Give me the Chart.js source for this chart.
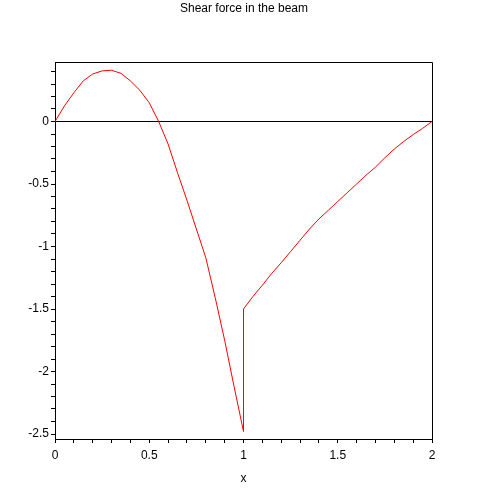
<!DOCTYPE html>
<html>
<head>
<meta charset="utf-8">
<script src="https://cdn.jsdelivr.net/npm/chart.js@4/dist/chart.umd.min.js"></script>
<style>
  html, body { margin: 0; padding: 0; background: #fff; }
  #wrap { width: 488px; height: 488px; }
</style>
</head>
<body>
<div id="wrap"><canvas id="shearChart"></canvas></div>
<script>
// x positions along the beam and the shear force
const xPos = [
    0, 0.05, 0.1, 0.15, 0.2, 0.25, 0.3, 0.35, 0.4, 0.45, 0.5, 0.55, 0.6, 0.65, 0.7, 0.75, 0.8, 0.85, 0.9, 0.95, 1.0,
    1.0, 1.05, 1.1, 1.15, 1.2, 1.25, 1.3, 1.35, 1.4, 1.45, 1.5, 1.55, 1.6, 1.65, 1.7, 1.75, 1.8, 1.85, 1.9, 1.95, 2.0
];
const shear = [
    0, 0.125, 0.23, 0.325, 0.38, 0.405, 0.41, 0.385, 0.325, 0.25, 0.15, 0.0, -0.18, -0.41, -0.63, -0.86, -1.09, -1.41, -1.75, -2.12, -2.48,
    -1.5, -1.40, -1.31, -1.215, -1.13, -1.04, -0.95, -0.86, -0.78, -0.71, -0.64, -0.57, -0.50, -0.43, -0.365, -0.29, -0.22, -0.16, -0.105, -0.055, 0
];
const xLabels = ['0', '0.5', '1', '1.5', '2'];
const yLabels = ['0', '-0.5', '-1', '-1.5', '-2', '-2.5'];

const font = { family: '"Liberation Sans", Arial, sans-serif', size: 12 };

function majorLabel(v, labels) {
    const r = Math.round(v * 10) / 10;
    const s = String(r);
    return labels.includes(s) ? s : '';
}

// top and right edges of the plot box
const frame = {
    id: 'frame',
    afterDraw(chart) {
        const { ctx, chartArea: a } = chart;
        ctx.save();
        ctx.strokeStyle = '#000';
        ctx.lineWidth = 1;
        ctx.beginPath();
        ctx.moveTo(a.left, Math.round(a.top) + 0.5);
        ctx.lineTo(Math.round(a.right) + 0.5, Math.round(a.top) + 0.5);
        ctx.lineTo(Math.round(a.right) + 0.5, a.bottom);
        ctx.stroke();
        ctx.restore();
    }
};

new Chart(document.getElementById('shearChart'), {
    type: 'scatter',
    data: {
        datasets: [{
            data: xPos.map((x, i) => ({ x: x, y: shear[i] })),
            showLine: true,
            borderColor: '#ff0000',
            borderWidth: 1,
            pointRadius: 0,
            tension: 0,
            fill: false
        }]
    },
    options: {
        responsive: true,
        maintainAspectRatio: false,
        animation: false,
        layout: { padding: 0 },
        plugins: {
            legend: { display: false },
            tooltip: { enabled: false },
            title: {
                display: true,
                text: 'Shear force in the beam',
                color: '#000',
                font: { ...font, weight: 'normal' },
                padding: { top: 1, bottom: 46.6 }
            }
        },
        scales: {
            x: {
                type: 'linear',
                min: 0,
                max: 2,
                afterFit: s => { s.height = 49; },
                border: { display: true, color: '#000', width: 1 },
                grid: { drawOnChartArea: false, tickColor: '#000', tickLength: 4 },
                ticks: {
                    stepSize: 0.1,
                    autoSkip: false,
                    maxRotation: 0,
                    includeBounds: false,
                    color: '#000',
                    font: font,
                    padding: 5,
                    callback: v => majorLabel(v, xLabels)
                },
                title: { display: true, text: 'x', color: '#000', font: font, padding: { top: 0, bottom: 2 } }
            },
            y: {
                type: 'linear',
                min: -2.54,
                max: 0.476,
                afterFit: s => { s.width = 55; },
                border: { display: true, color: '#000', width: 1 },
                grid: {
                    drawOnChartArea: true,
                    color: c => (c.tick && Math.abs(c.tick.value) < 1e-9) ? '#000' : 'rgba(0,0,0,0)',
                    tickColor: '#000',
                    tickLength: 4
                },
                ticks: {
                    stepSize: 0.1,
                    autoSkip: false,
                    includeBounds: false,
                    color: '#000',
                    font: font,
                    padding: 2,
                    callback: v => majorLabel(v, yLabels)
                }
            },
            // empty right-hand margin, keeps the title centred on the page
            yRight: {
                type: 'linear',
                position: 'right',
                display: true,
                afterFit: s => { s.width = 56; },
                border: { display: false },
                grid: { display: false },
                ticks: { display: false }
            }
        }
    },
    plugins: [frame]
});
</script>
</body>
</html>
